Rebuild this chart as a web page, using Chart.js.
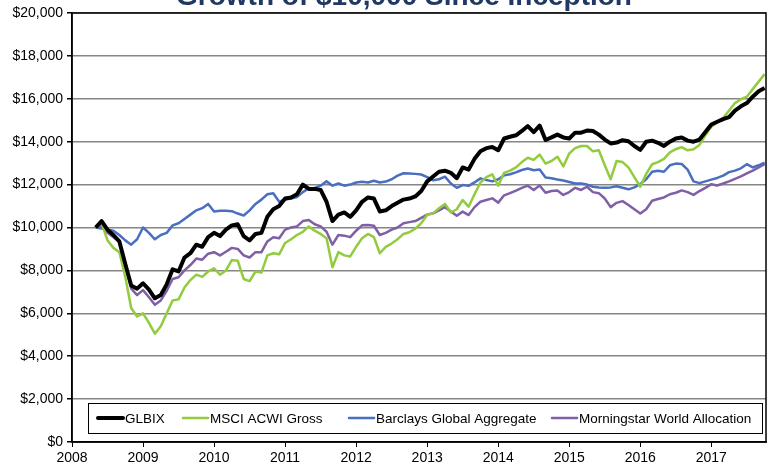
<!DOCTYPE html>
<html>
<head>
<meta charset="utf-8">
<script src="https://cdn.jsdelivr.net/npm/chart.js@4.4.1/dist/chart.umd.min.js"></script>
<style>
html,body{margin:0;padding:0;background:#fff;}
</style>
</head>
<body>
<canvas id="myChart" width="768" height="466"></canvas>
<script>
// monthly values, first point is month index 4 after Jan 2008
const startYear = 2008;
const startMonth = 4;
const titleText = "Growth of $10,000 Since Inception";
const seriesNames = ["GLBIX", "MSCI ACWI Gross", "Barclays Global Aggregate", "Morningstar World Allocation"];
const seriesColors = ["#000000", "#92cc3e", "#4a6fbf", "#7f5fa6"];
const seriesWidths = [4, 2.5, 2.5, 2.5];
const yearTicks = [2008, 2009, 2010, 2011, 2012, 2013, 2014, 2015, 2016, 2017];

const glbix = [
  10000,10300,9900,9650,9350,8300,7300,7150,7400,7100,6700,6850,
  7350,8050,7950,8600,8800,9200,9100,9550,9750,9600,9900,10100,
  10150,9600,9400,9700,9750,10500,10850,11000,11350,11400,11550,12000,
  11800,11800,11750,11200,10300,10600,10700,10500,10800,11200,11400,11350,
  10750,10800,11000,11150,11300,11350,11450,11700,12150,12380,12600,12650,
  12550,12300,12800,12700,13200,13550,13700,13750,13600,14150,14230,14300,
  14500,14730,14450,14750,14080,14200,14330,14200,14150,14420,14420,14520,
  14500,14330,14100,13920,13960,14070,14020,13800,13620,14000,14050,13950,
  13800,14000,14150,14200,14050,14000,14100,14450,14800,14930,15050,15150,
  15450,15650,15800,16100,16350,16500
];
const msciAcwi = [
  10000,10200,9400,9050,8850,7700,6250,5850,6000,5550,5050,5400,
  6000,6600,6650,7200,7550,7800,7700,7950,8100,7800,8000,8480,
  8450,7600,7500,7950,7900,8700,8800,8750,9280,9450,9650,9800,
  10050,9850,9700,9500,8150,8850,8700,8650,9100,9500,9700,9550,
  8800,9100,9250,9450,9700,9780,9950,10200,10580,10660,10900,11100,
  10700,10850,11280,10970,11550,12100,12350,12480,11950,12550,12650,12800,
  13050,13250,13150,13400,12980,13100,13300,12850,13450,13700,13800,13800,
  13550,13600,12900,12250,13100,13050,12800,12350,11900,12500,12950,13050,
  13200,13500,13650,13750,13600,13650,13850,14300,14700,14900,15100,15450,
  15800,15980,16100,16450,16800,17150
];
const barclaysAgg = [
  10000,9950,9900,9850,9650,9400,9200,9450,10000,9750,9450,9650,
  9750,10100,10200,10400,10600,10800,10900,11100,10750,10780,10780,10760,
  10650,10560,10800,11100,11300,11550,11600,11200,11300,11350,11420,11650,
  11830,11840,11950,12150,11950,12050,11950,12000,12100,12130,12100,12180,
  12100,12140,12250,12420,12530,12520,12500,12470,12350,12200,12250,12370,
  12050,11850,11980,11940,12100,12290,12210,12150,12250,12430,12480,12570,
  12680,12750,12670,12700,12330,12300,12240,12190,12120,12050,12050,12000,
  11900,11870,11850,11870,11920,11850,11780,11870,12030,12250,12600,12650,
  12600,12900,12980,12960,12700,12150,12070,12150,12230,12310,12420,12580,
  12650,12760,12950,12800,12900,13030
];
const mstarWorldAlloc = [
  10000,10070,9750,9550,9340,8300,7150,6850,7080,6750,6400,6600,
  7050,7600,7680,8000,8250,8550,8500,8780,8850,8700,8870,9050,
  9000,8700,8600,8850,8850,9350,9550,9500,9900,10000,10050,10300,
  10350,10150,10050,9800,9200,9650,9620,9550,9850,10100,10120,10080,
  9650,9750,9900,10000,10200,10250,10300,10450,10600,10660,10800,10950,
  10750,10550,10740,10580,10950,11200,11280,11360,11160,11500,11600,11720,
  11850,11950,11750,11960,11620,11700,11720,11520,11650,11850,11750,11900,
  11650,11600,11350,10950,11150,11230,11050,10850,10650,10850,11250,11330,
  11400,11550,11620,11730,11650,11520,11700,11850,12020,11960,12050,12150,
  12270,12380,12520,12650,12800,12950
];
const allSeries = [glbix, msciAcwi, barclaysAgg, mstarWorldAlloc];

function toPoints(arr){
  return arr.map((v, i) => ({x: startYear + (startMonth + i) / 12, y: v}));
}

const fontFam = "'Liberation Sans', Arial, sans-serif";
// legend entry start positions (px)
const legendX = [98, 183, 349, 552];

// title (cut off at top) + plot frame + boxed legend
const extras = {
  id: 'extras',
  afterDraw(chart){
    const c = chart.ctx, a = chart.chartArea;
    c.save();
    c.strokeStyle = '#000';
    c.lineWidth = 1.5;
    c.strokeRect(a.left, a.top, a.right - a.left, a.bottom - a.top);

    c.fillStyle = '#1f3864';
    c.font = "bold 28px " + fontFam;
    c.textAlign = 'center';
    c.textBaseline = 'alphabetic';
    c.fillText(titleText, 404, 5);

    // legend box
    const bx = 88, by = 403, bw = 674, bh = 30;
    c.fillStyle = '#fff';
    c.fillRect(bx, by, bw, bh);
    c.strokeStyle = '#000';
    c.lineWidth = 1;
    c.strokeRect(bx + 0.5, by + 0.5, bw, bh);
    c.font = "13.5px " + fontFam;
    c.textAlign = 'left';
    c.textBaseline = 'middle';
    const ly = by + bh / 2;
    seriesNames.forEach((name, i) => {
      const x = legendX[i];
      c.strokeStyle = seriesColors[i];
      c.lineWidth = seriesWidths[i];
      c.lineCap = 'round';
      c.beginPath();
      c.moveTo(x, ly);
      c.lineTo(x + 25, ly);
      c.stroke();
      c.fillStyle = '#000';
      c.fillText(name, x + 27, ly + 1);
    });
    c.restore();
  }
};

const ctx = document.getElementById('myChart');
const growthChart = new Chart(ctx, {
  type: 'line',
  data: {
    datasets: allSeries.map((arr, i) => ({
      label: seriesNames[i],
      data: toPoints(arr),
      borderColor: seriesColors[i],
      backgroundColor: seriesColors[i],
      borderWidth: seriesWidths[i],
      pointRadius: 0,
      tension: 0,
      borderJoinStyle: 'round',
      fill: false
    }))
  },
  options: {
    responsive: false,
    animation: false,
    devicePixelRatio: 1,
    layout: {padding: {left: 0, right: 2, top: 13, bottom: 0}},
    plugins: {legend: {display: false}, tooltip: {enabled: false}},
    scales: {
      x: {
        type: 'linear',
        min: 2008,
        max: 2017.77,
        afterBuildTicks: s => { s.ticks = yearTicks.map(v => ({value: v})); },
        afterFit: s => { s.height = 24; },
        ticks: {
          callback: v => String(v),
          color: '#000',
          font: {family: fontFam, size: 14},
          padding: 3,
          maxRotation: 0,
          autoSkip: false
        },
        grid: {drawOnChartArea: false, drawTicks: true, tickLength: 5, tickColor: '#000'},
        border: {color: '#000', width: 1.5}
      },
      y: {
        min: 0,
        max: 20000,
        afterFit: s => { s.width = 72; },
        ticks: {
          stepSize: 2000,
          callback: v => '$' + v.toLocaleString('en-US'),
          color: '#000',
          font: {family: fontFam, size: 14},
          padding: 4
        },
        grid: {color: '#868686', lineWidth: 1.5, tickLength: 5, tickColor: '#000'},
        border: {color: '#000', width: 1.5}
      }
    }
  },
  plugins: [extras]
});
</script>
</body>
</html>
